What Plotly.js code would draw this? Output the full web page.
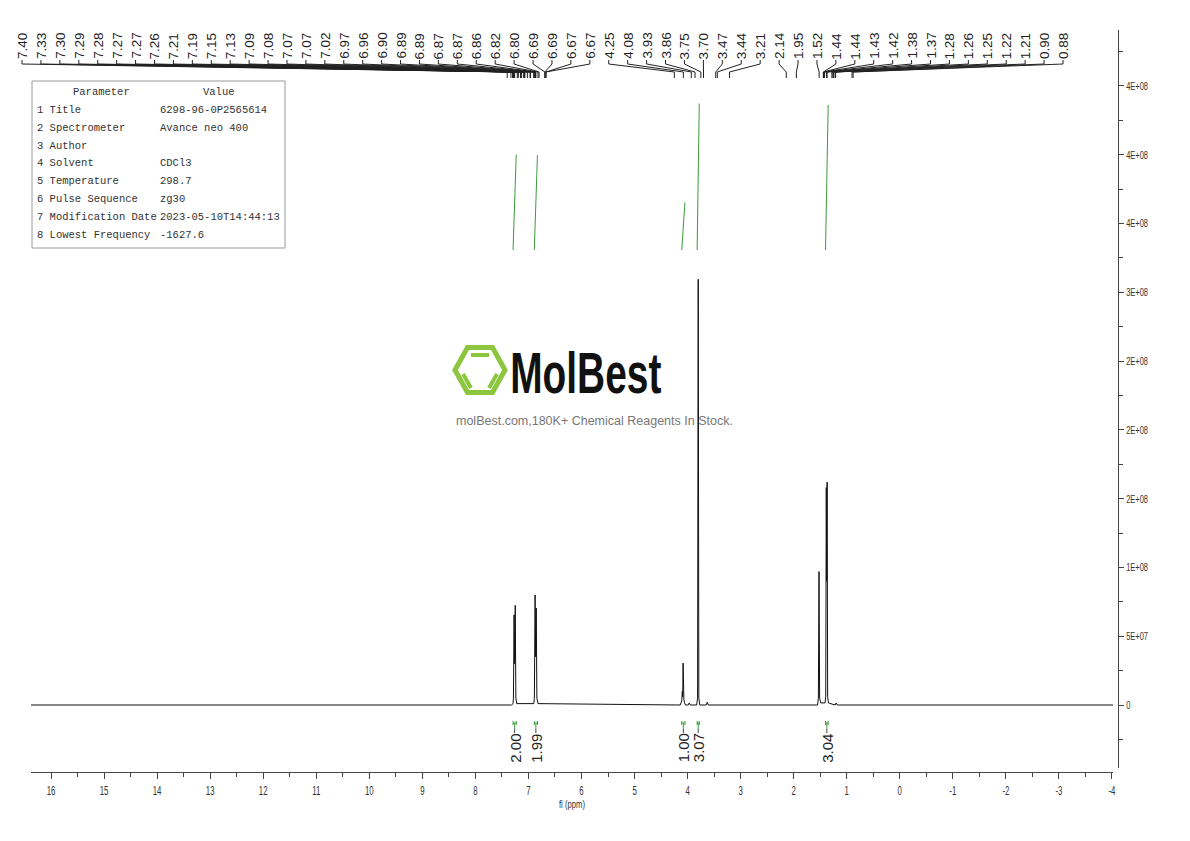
<!DOCTYPE html>
<html><head><meta charset="utf-8">
<script src="https://cdn.plot.ly/plotly-3.0.1.min.js"></script>
<style>html,body{margin:0;padding:0;background:#fff}#chart{width:1190px;height:841px}</style>
</head><body><div id="chart"></div>
<script>
// ---------------- data ----------------
const specPpm = [16.38, 7.32, 7.29, 7.283, 7.271, 7.260, 7.249, 7.237, 7.22, 6.90, 6.888, 6.875, 6.864, 6.853, 6.841, 6.82,
  4.14, 4.11, 4.100, 4.092, 4.085, 4.078, 4.070, 4.060, 4.04, 3.99, 3.97, 3.95, 3.83, 3.812, 3.800, 3.788, 3.77,
  3.65, 3.63, 3.61, 1.55, 1.535, 1.523, 1.511, 1.49, 1.41, 1.396, 1.386, 1.378, 1.370, 1.360, 1.345, 1.22, 1.20, 1.18, -4.10];
const specInt = [0, 0, 0.1e7, 0.5e7, 6.55e7, 3.0e7, 7.25e7, 0.5e7, 0.1e7, 0.1e7, 0.5e7, 8.0e7, 3.5e7, 7.05e7, 0.5e7, 0.1e7,
  0, 0.3e7, 1.0e7, 0.6e7, 3.05e7, 1.1e7, 0.4e7, 0.2e7, 0, 0, 0.15e7, 0, 0, 0.5e7, 3.095e8, 0.5e7, 0,
  0, 0.2e7, 0, 0, 0.5e7, 9.7e7, 0.5e7, 0.15e7, 0.15e7, 0.6e7, 1.58e8, 0.9e8, 1.62e8, 0.6e7, 0.15e7, 0, 0.15e7, 0, 0];

const integralFrom = [7.29, 6.89, 4.11, 3.82, 1.40];
const integralTo = [7.23, 6.83, 4.05, 3.78, 1.35];
const integralValues = [2.00, 1.99, 1.00, 3.07, 3.04];

const peakLabels = [7.40, 7.33, 7.30, 7.29, 7.28, 7.27, 7.27, 7.26, 7.21, 7.19, 7.15, 7.13, 7.09, 7.08, 7.07, 7.07,
  7.02, 6.97, 6.96, 6.90, 6.89, 6.89, 6.87, 6.87, 6.86, 6.82, 6.80, 6.69, 6.69, 6.67, 6.67,
  4.25, 4.08, 3.93, 3.86, 3.75, 3.70, 3.47, 3.44, 3.21, 2.14, 1.95,
  1.52, 1.44, 1.44, 1.43, 1.42, 1.38, 1.37, 1.28, 1.26, 1.25, 1.22, 1.21, 0.90, 0.88];

const xTickVals = [16, 15, 14, 13, 12, 11, 10, 9, 8, 7, 6, 5, 4, 3, 2, 1, 0, -1, -2, -3, -4];
const xTickText = ['16', '15', '14', '13', '12', '11', '10', '9', '8', '7', '6', '5', '4', '3', '2', '1', '0', '-1', '-2', '-3', '-4'];
const yTickVals = [0, 5e7, 1e8, 1.5e8, 2e8, 2.5e8, 3e8, 3.5e8, 4e8, 4.5e8];
const yTickText = ['0', '5E+07', '1E+08', '2E+08', '2E+08', '2E+08', '3E+08', '4E+08', '4E+08', '4E+08'];

const paramNames = ['1 Title', '2 Spectrometer', '3 Author', '4 Solvent', '5 Temperature', '6 Pulse Sequence', '7 Modification Date', '8 Lowest Frequency'];
const paramValues = ['6298-96-0P2565614', 'Avance neo 400', '', 'CDCl3', '298.7', 'zg30', '2023-05-10T14:44:13', '-1627.6'];

// ---------------- layout helpers ----------------
const W = 1190, H = 841;
const PL = 31, PR = 1118, PT = 30, PB = 772;      // plot area in px
const XEND = 1113, YBOT = 768;                      // end of x domain, bottom of y domain
const X_RANGE = [16.377, -4.019];
const Y_RANGE = [-4.58e7, 4.907e8];
const INT_BASE_PX = 250, INT_PX_PER_UNIT = 47.7;

const xP = px => (px - PL) / (PR - PL);
const yP = py => (PB - py) / (PB - PT);
const ppmToPx = p => PL + (X_RANGE[0] - p) / (X_RANGE[0] - X_RANGE[1]) * (XEND - PL);

const sans = 'Liberation Sans, Arial, sans-serif';
const mono = 'Liberation Mono, DejaVu Sans Mono, monospace';
const green = '#3d9b3d';

// ---------------- traces ----------------
const traces = [{
  type: 'scatter', mode: 'lines', x: specPpm, y: specInt,
  line: {color: '#111', width: 1}, hoverinfo: 'skip', xaxis: 'x', yaxis: 'y'
}];
integralValues.forEach((v, i) => {
  traces.push({
    type: 'scatter', mode: 'lines', x: [integralFrom[i], integralTo[i]], y: [0, v],
    line: {color: green, width: 1}, hoverinfo: 'skip', xaxis: 'x', yaxis: 'y3'
  });
});

// ---------------- shapes & annotations ----------------
const shapes = [];
const annotations = [];

// peak labels (evenly spread slots) with connector lines
const slot0 = 22, slotN = 1063;
const step = (slotN - slot0) / (peakLabels.length - 1);
let conn = '';
peakLabels.forEach((p, i) => {
  const lx = slot0 + i * step;
  const px = ppmToPx(p);
  conn += `M${xP(lx)},${yP(60)} L${xP(lx)},${yP(64)} L${xP(px)},${yP(72)} L${xP(px)},${yP(78)} `;
  annotations.push({
    xref: 'paper', yref: 'paper', x: xP(lx), y: yP(46), text: p.toFixed(2), textangle: -90,
    showarrow: false, xanchor: 'center', yanchor: 'middle', font: {family: sans, size: 13.5, color: '#222'}
  });
});
shapes.push({type: 'path', xref: 'paper', yref: 'paper', path: conn, line: {color: '#222', width: 1}});

// integral markers and labels
integralValues.forEach((v, i) => {
  const a = integralFrom[i], b = integralTo[i], c = (a + b) / 2;
  shapes.push({
    type: 'path', xref: 'x', yref: 'paper',
    path: `M${a},${yP(723)} L${b},${yP(723)} M${a},${yP(721)} L${a},${yP(725)} M${b},${yP(721)} L${b},${yP(725)} M${c},${yP(723)} L${c},${yP(729)}`,
    line: {color: green, width: 1}
  });
  shapes.push({type: 'line', xref: 'x', yref: 'paper', x0: c, x1: c, y0: yP(729), y1: yP(733), line: {color: '#444', width: 1}});
  annotations.push({
    xref: 'x', yref: 'paper', x: c, y: yP(748), text: v.toFixed(2), textangle: -90, showarrow: false,
    xanchor: 'center', yanchor: 'middle', font: {family: sans, size: 15, color: '#222'}
  });
});

// parameter table
shapes.push({type: 'rect', xref: 'paper', yref: 'paper', x0: xP(32), x1: xP(285), y0: yP(248), y1: yP(81),
  line: {color: '#9a9a9a', width: 1}, fillcolor: '#fff'});
const tFont = {family: mono, size: 10.5, color: '#333'};
annotations.push({xref: 'paper', yref: 'paper', x: xP(101), y: yP(92), text: 'Parameter', showarrow: false, xanchor: 'center', yanchor: 'middle', font: tFont});
annotations.push({xref: 'paper', yref: 'paper', x: xP(219), y: yP(92), text: 'Value', showarrow: false, xanchor: 'center', yanchor: 'middle', font: tFont});
paramNames.forEach((n, i) => {
  const py = 110 + i * 17.8;
  annotations.push({xref: 'paper', yref: 'paper', x: xP(35), y: yP(py), text: n, showarrow: false, xanchor: 'left', yanchor: 'middle', font: tFont});
  if (paramValues[i]) annotations.push({xref: 'paper', yref: 'paper', x: xP(158), y: yP(py), text: paramValues[i], showarrow: false, xanchor: 'left', yanchor: 'middle', font: tFont});
});

// watermark
const hx = 480, hy = 370;
const hexPts = [[hx - 25, hy], [hx - 12.5, hy - 22.5], [hx + 12.5, hy - 22.5], [hx + 25, hy], [hx + 12.5, hy + 22.5], [hx - 12.5, hy + 22.5]];
shapes.push({type: 'path', xref: 'paper', yref: 'paper', layer: 'below',
  path: 'M' + hexPts.map(q => `${xP(q[0])},${yP(q[1])}`).join(' L') + ' Z',
  line: {color: '#8cc63f', width: 5}});
shapes.push({type: 'path', xref: 'paper', yref: 'paper', layer: 'below',
  path: `M${xP(471)},${yP(355)} L${xP(489)},${yP(355)} M${xP(463)},${yP(374)} L${xP(471)},${yP(388)} M${xP(497)},${yP(374)} L${xP(489)},${yP(388)}`,
  line: {color: '#8cc63f', width: 4}});
annotations.push({xref: 'paper', yref: 'paper', x: xP(586), y: yP(372), text: '<b>MolBest</b>', showarrow: false,
  xanchor: 'center', yanchor: 'middle', font: {family: sans, size: 58, color: '#111'}});
annotations.push({xref: 'paper', yref: 'paper', x: xP(594), y: yP(421), text: 'molBest.com,180K+ Chemical Reagents In Stock.', showarrow: false,
  xanchor: 'center', yanchor: 'middle', font: {family: sans, size: 12.5, color: '#777'}});

// ---------------- layout ----------------
const axisColor = '#444';
const layout = {
  width: W, height: H,
  margin: {l: PL, r: W - PR, t: PT, b: H - PB, pad: 0},
  paper_bgcolor: '#fff', plot_bgcolor: '#fff',
  showlegend: false, hovermode: false,
  xaxis: {
    domain: [0, (XEND - PL) / (PR - PL)], range: X_RANGE, anchor: 'free', position: 0,
    showline: true, linecolor: axisColor, linewidth: 1, showgrid: false, zeroline: false,
    ticks: 'outside', ticklen: 6, tickcolor: axisColor, tickwidth: 1,
    tickmode: 'array', tickvals: xTickVals, ticktext: xTickText,
    tickfont: {family: sans, size: 13, color: '#333'},
    minor: {tickmode: 'linear', tick0: 0, dtick: 0.5, ticks: 'outside', ticklen: 4, tickcolor: axisColor, showgrid: false},
    title: {text: 'fl (ppm)', font: {family: sans, size: 11, color: '#333'}, standoff: 2}
  },
  yaxis: {
    domain: [(PB - YBOT) / (PB - PT), 1], range: Y_RANGE, side: 'right', anchor: 'free', position: 1,
    showline: true, linecolor: axisColor, linewidth: 1, showgrid: false, zeroline: false,
    ticks: 'outside', ticklen: 5, tickcolor: axisColor, tickwidth: 1,
    tickmode: 'array', tickvals: yTickVals, ticktext: yTickText,
    tickfont: {family: sans, size: 11, color: '#333'},
    minor: {tickmode: 'linear', tick0: 0, dtick: 2.5e7, ticks: 'outside', ticklen: 4, tickcolor: axisColor, showgrid: false}
  },
  yaxis3: {
    overlaying: 'y', visible: false,
    range: [(INT_BASE_PX - YBOT) / INT_PX_PER_UNIT, (INT_BASE_PX - PT) / INT_PX_PER_UNIT]
  },
  shapes: shapes,
  annotations: annotations
};

// horizontally condense a text element (the reference uses a condensed typeface)
function squeeze(el, sx, anchor) {
  const bb = el.getBBox();
  const ox = anchor === 'left' ? bb.x : bb.x + bb.width / 2;
  const prev = el.getAttribute('transform') || '';
  el.setAttribute('transform', `${prev} translate(${ox},0) scale(${sx},1) translate(${-ox},0)`);
}

Plotly.newPlot('chart', traces, layout, {displayModeBar: false, staticPlot: true}).then(gd => {
  gd.querySelectorAll('.xtick text').forEach(t => squeeze(t, 0.6, 'center'));
  gd.querySelectorAll('.ytick text').forEach(t => squeeze(t, 0.68, 'left'));
  gd.querySelectorAll('.g-xtitle text').forEach(t => squeeze(t, 0.7, 'center'));
  gd.querySelectorAll('.annotation-text').forEach(t => {
    if (t.textContent === 'MolBest') squeeze(t, 0.67, 'center');
  });
});
</script>
</body></html>
